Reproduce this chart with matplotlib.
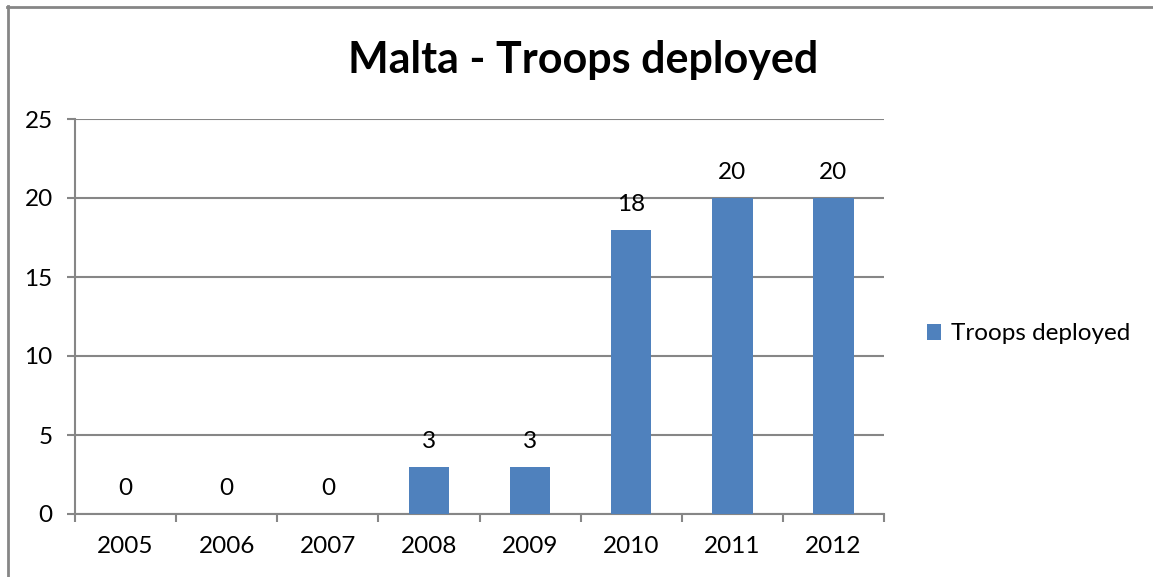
import matplotlib.pyplot as plt
import numpy as np
from matplotlib.lines import Line2D

years = ["2005", "2006", "2007", "2008", "2009", "2010", "2011", "2012"]
troops = [0, 0, 0, 3, 3, 18, 20, 20]
yticks = [0, 5, 10, 15, 20, 25]

plt.rcParams['font.family'] = ['Lato', 'DejaVu Sans']

W, H = 1153, 577
fig = plt.figure(figsize=(W / 100, H / 100), dpi=100)
ax = fig.add_axes([75 / W, 1 - 514 / H, (884 - 75) / W, (514 - 119) / H])

grey = "#868686"
blue = "#4F81BD"
fs = 17.5

x = np.arange(len(years))
bars = ax.bar(x, troops, width=0.4, color=blue, zorder=3, label="Troops deployed")
for xi, v in zip(x, troops):
    ax.annotate(str(v), (xi, v), xytext=(0, 10.5), textcoords="offset points",
                ha="center", va="bottom", fontsize=fs)

ax.set_xlim(-0.5, len(years) - 0.5)
ax.set_ylim(0, 25)
ax.set_yticks(yticks)
ax.set_yticklabels([str(t) for t in yticks], fontsize=fs)
ax.yaxis.grid(True, color=grey, linewidth=1.5, zorder=0)

ax.set_xticks(x)
ax.set_xticklabels(years, fontsize=fs)
ax.set_xticks(np.arange(len(years) + 1) - 0.5, minor=True)
ax.tick_params(axis="x", which="major", length=0, pad=16)
ax.tick_params(axis="x", which="minor", length=6, width=1.5, color=grey)
ax.tick_params(axis="y", length=6, width=1.5, color=grey, pad=10)

for s in ["top", "right"]:
    ax.spines[s].set_visible(False)
for s in ["left", "bottom"]:
    ax.spines[s].set_color(grey)
    ax.spines[s].set_linewidth(1.5)

fig.text(583 / W, 1 - 73 / H, "Malta - Troops deployed", ha="center", va="baseline",
         fontsize=31, fontweight="bold")

leg = fig.legend(handles=[bars], labels=["Troops deployed"], loc="center left",
                 bbox_to_anchor=(905 / W, 1 - 334 / H), frameon=False, fontsize=fs,
                 handlelength=0.6, handleheight=0.6, handletextpad=0.4)

# outer chart border (left and top edges visible)
fig.add_artist(Line2D([7.5 / W, 7.5 / W], [0, 1 - 6 / H], color=grey, linewidth=2,
                      transform=fig.transFigure))
fig.add_artist(Line2D([7 / W, 1], [1 - 6.5 / H, 1 - 6.5 / H], color=grey, linewidth=2,
                      transform=fig.transFigure))

fig.savefig("out.png", dpi=100)
